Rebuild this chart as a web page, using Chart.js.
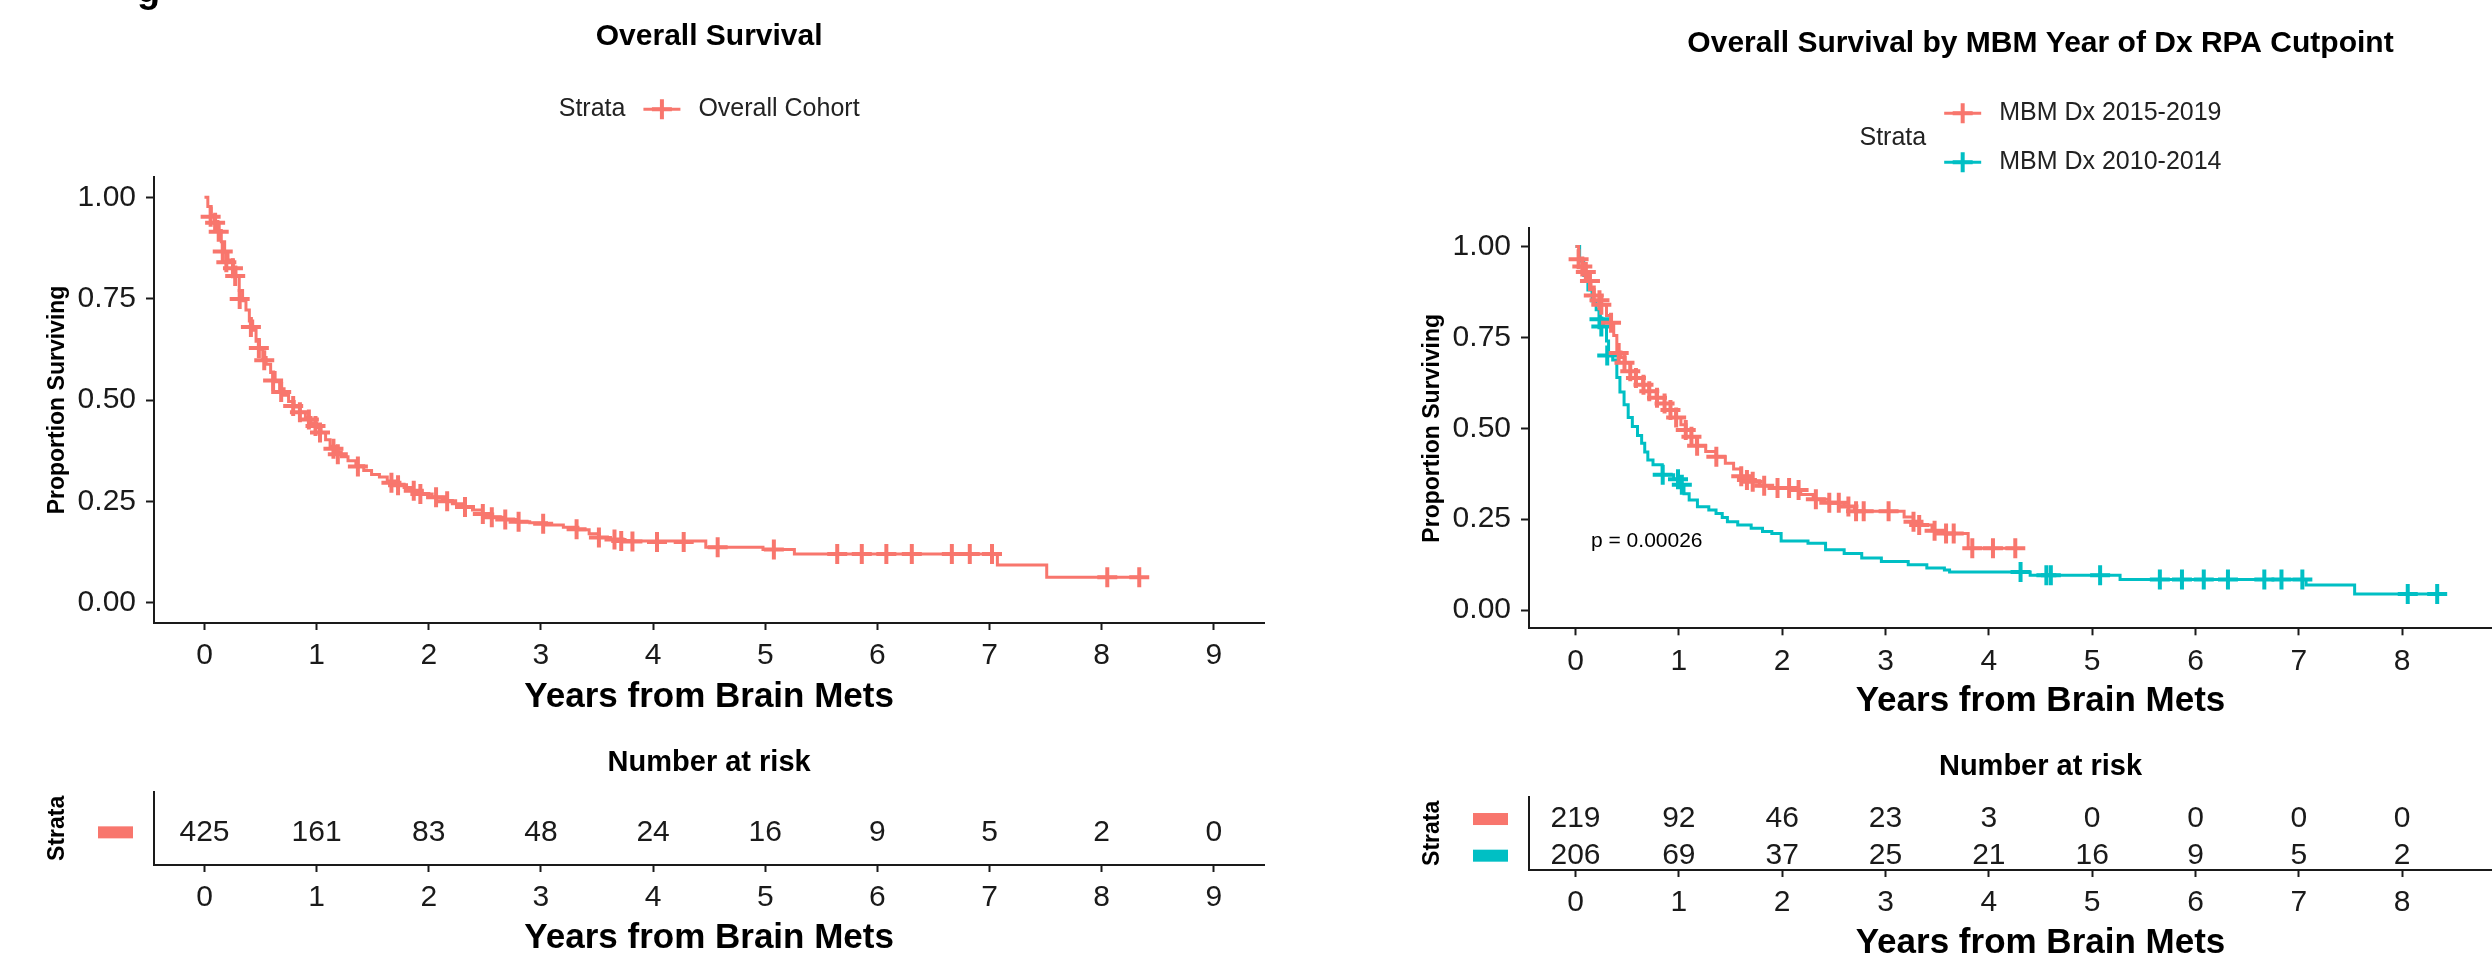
<!DOCTYPE html>
<html>
<head>
<meta charset="utf-8">
<title>Overall Survival</title>
<script src="https://cdn.jsdelivr.net/npm/chart.js@4.4.1/dist/chart.umd.min.js"></script>
<style>
  html, body { margin: 0; padding: 0; background: #fff; }
  body { width: 2492px; height: 964px; overflow: hidden; position: relative; }
  canvas { position: absolute; }
</style>
</head>
<body>
<canvas id="kmLeft" width="1300" height="720" style="left:0;top:0"></canvas>
<canvas id="kmRight" width="1220" height="724" style="left:1375px;top:0"></canvas>
<canvas id="riskLeft" width="1300" height="244" style="left:0;top:720px"></canvas>
<canvas id="riskRight" width="1220" height="244" style="left:1375px;top:720px"></canvas>
<script>
const FONT = "'Liberation Sans', Arial, sans-serif";
const RED = '#F8766D';
const TEAL = '#00BFC4';
const INK = '#1a1a1a';

// axes
const yearTicks = [0, 1, 2, 3, 4, 5, 6, 7, 8, 9];
const survTicks = [0, 0.25, 0.5, 0.75, 1];
const survTickLabels = ['0.00', '0.25', '0.50', '0.75', '1.00'];

// left panel: overall cohort
const overallTimes = [0, 0.03, 0.06, 0.09, 0.12, 0.15, 0.18, 0.21, 0.25, 0.28, 0.31, 0.34, 0.37, 0.40, 0.43, 0.46, 0.49, 0.52, 0.55, 0.59,
  0.63, 0.67, 0.71, 0.75, 0.80, 0.85, 0.90, 0.95, 1.00, 1.04, 1.08, 1.12, 1.17, 1.22, 1.28, 1.35, 1.42, 1.49, 1.56, 1.63,
  1.70, 1.78, 1.86, 1.94, 2.03, 2.12, 2.21, 2.30, 2.39, 2.48, 2.57, 2.67, 2.78, 2.90, 3.05, 3.20, 3.33, 3.43, 3.52, 3.62,
  3.75, 4.47, 4.98, 5.26, 7.07, 7.51, 8.34];
const overallSurv = [1, 0.977, 0.955, 0.94, 0.918, 0.89, 0.865, 0.845, 0.828, 0.805, 0.77, 0.745, 0.722, 0.695, 0.672, 0.645, 0.625, 0.605, 0.588, 0.568,
  0.545, 0.528, 0.512, 0.496, 0.483, 0.47, 0.457, 0.443, 0.432, 0.42, 0.402, 0.386, 0.372, 0.36, 0.35, 0.338, 0.326, 0.316, 0.31, 0.3,
  0.292, 0.284, 0.276, 0.268, 0.26, 0.252, 0.244, 0.236, 0.229, 0.219, 0.211, 0.205, 0.2, 0.197, 0.192, 0.186, 0.18, 0.17, 0.161, 0.156,
  0.152, 0.137, 0.131, 0.12, 0.093, 0.063, 0.063];
const overallCensorTimes = [0.055, 0.095, 0.127, 0.163, 0.195, 0.254, 0.274, 0.314, 0.414, 0.485, 0.533, 0.612, 0.684, 0.791, 0.851, 0.931, 0.99, 1.03, 1.15, 1.189,
  1.368, 1.667, 1.726, 1.866, 1.925, 2.065, 2.164, 2.323, 2.482, 2.562, 2.682, 2.801, 3.02, 3.318, 3.517, 3.656, 3.716, 3.816, 4.035, 4.273,
  4.576, 5.077, 5.642, 5.861, 6.08, 6.307, 6.664, 6.824, 7.022, 8.05, 8.335];
const overallCensorSurv = [0.952, 0.937, 0.915, 0.866, 0.84, 0.825, 0.806, 0.749, 0.68, 0.628, 0.598, 0.548, 0.52, 0.485, 0.47, 0.452, 0.436, 0.42, 0.38, 0.366,
  0.336, 0.296, 0.29, 0.276, 0.268, 0.26, 0.25, 0.236, 0.219, 0.211, 0.205, 0.2, 0.195, 0.181, 0.161, 0.156, 0.152, 0.151, 0.15, 0.15,
  0.137, 0.131, 0.12, 0.12, 0.12, 0.12, 0.12, 0.12, 0.12, 0.063, 0.063];
const overallRiskYears = [0, 1, 2, 3, 4, 5, 6, 7, 8, 9];
const overallAtRisk = [425, 161, 83, 48, 24, 16, 9, 5, 2, 0];

// right panel: MBM Dx 2015-2019 vs 2010-2014
const recentTimes = [0, 0.03, 0.07, 0.10, 0.12, 0.15, 0.18, 0.23, 0.25, 0.30, 0.34, 0.37, 0.40, 0.44, 0.48, 0.53, 0.58, 0.65, 0.71, 0.78,
  0.86, 0.92, 0.97, 1.02, 1.07, 1.12, 1.17, 1.26, 1.36, 1.45, 1.53, 1.60, 1.68, 1.78, 1.90, 2.10, 2.18, 2.30, 2.45, 2.60,
  2.70, 3.18, 3.27, 3.33, 3.45, 3.52, 3.80, 4.26];
const recentSurv = [1, 0.965, 0.945, 0.93, 0.905, 0.882, 0.865, 0.852, 0.84, 0.81, 0.79, 0.755, 0.71, 0.695, 0.68, 0.657, 0.638, 0.62, 0.602, 0.584,
  0.568, 0.55, 0.53, 0.51, 0.495, 0.477, 0.452, 0.436, 0.422, 0.404, 0.388, 0.368, 0.356, 0.342, 0.336, 0.33, 0.318, 0.305, 0.295, 0.285,
  0.272, 0.256, 0.243, 0.234, 0.218, 0.211, 0.17, 0.17];
const recentCensorTimes = [0.03, 0.066, 0.10, 0.14, 0.177, 0.232, 0.25, 0.344, 0.418, 0.474, 0.53, 0.585, 0.658, 0.714, 0.789, 0.862, 0.919, 0.974, 1.067, 1.122,
  1.177, 1.363, 1.604, 1.659, 1.715, 1.826, 1.955, 2.067, 2.159, 2.326, 2.456, 2.548, 2.641, 2.715, 2.789, 3.03, 3.271, 3.326, 3.475, 3.586,
  3.66, 3.84, 4.04, 4.256];
const recentCensorSurv = [0.965, 0.945, 0.93, 0.905, 0.865, 0.852, 0.84, 0.79, 0.707, 0.68, 0.657, 0.638, 0.62, 0.602, 0.584, 0.568, 0.55, 0.53, 0.495, 0.477,
  0.452, 0.422, 0.368, 0.358, 0.353, 0.342, 0.336, 0.336, 0.33, 0.305, 0.295, 0.295, 0.285, 0.272, 0.272, 0.272, 0.243, 0.234, 0.218, 0.211,
  0.211, 0.17, 0.17, 0.17];
const earlyTimes = [0, 0.04, 0.08, 0.12, 0.16, 0.20, 0.24, 0.27, 0.30, 0.32, 0.36, 0.40, 0.43, 0.47, 0.51, 0.55, 0.60, 0.64, 0.67, 0.70,
  0.75, 0.84, 0.95, 1.00, 1.05, 1.10, 1.18, 1.29, 1.36, 1.42, 1.47, 1.57, 1.70, 1.81, 1.90, 1.99, 2.25, 2.42, 2.60, 2.77,
  2.96, 3.22, 3.40, 3.57, 3.62, 4.40, 5.27, 7.07, 7.54, 8.34];
const earlySurv = [1, 0.96, 0.92, 0.88, 0.85, 0.826, 0.80, 0.78, 0.74, 0.70, 0.688, 0.64, 0.60, 0.565, 0.53, 0.505, 0.48, 0.459, 0.435, 0.413,
  0.40, 0.372, 0.36, 0.345, 0.32, 0.303, 0.284, 0.275, 0.266, 0.255, 0.243, 0.234, 0.225, 0.216, 0.211, 0.19, 0.184, 0.166, 0.156, 0.143,
  0.134, 0.125, 0.116, 0.11, 0.105, 0.096, 0.084, 0.069, 0.044, 0.044];
const earlyCensorTimes = [0.232, 0.25, 0.307, 0.844, 0.992, 1.029, 4.307, 4.557, 4.60, 5.077, 5.655, 5.869, 6.08, 6.314, 6.666, 6.832, 7.034, 8.054, 8.339];
const earlyCensorSurv = [0.80, 0.78, 0.70, 0.372, 0.36, 0.345, 0.105, 0.096, 0.096, 0.096, 0.084, 0.084, 0.084, 0.084, 0.084, 0.084, 0.084, 0.044, 0.044];
const splitRiskYears = [0, 1, 2, 3, 4, 5, 6, 7, 8];
const recentAtRisk = [219, 92, 46, 23, 3, 0, 0, 0, 0];
const earlyAtRisk = [206, 69, 37, 25, 21, 16, 9, 5, 2];

Chart.defaults.font.family = FONT;
Chart.defaults.animation = false;

const pts = (xs, ys) => xs.map((x, i) => ({ x, y: ys[i] }));

function curve(label, xs, ys, color) {
  return { type: 'line', label, data: pts(xs, ys), borderColor: color, borderWidth: 3,
    stepped: 'before', pointRadius: 0, fill: false };
}
function censor(label, xs, ys, color) {
  return { type: 'scatter', label, data: pts(xs, ys), showLine: false, pointStyle: 'cross',
    pointRadius: 10, pointHoverRadius: 10, borderColor: color, borderWidth: 4 };
}

function xAxis(box, titlePad) {
  return {
    type: 'linear', min: -0.45, max: 9.45,
    afterBuildTicks: s => { s.ticks = yearTicks.map(v => ({ value: v })); },
    afterFit: s => { s.height = box.h - box.bottom; },
    ticks: { color: INK, font: { size: 30 }, padding: 8, maxRotation: 0, autoSkip: false },
    grid: { drawOnChartArea: false, tickLength: 7, tickWidth: 2, color: INK, tickColor: INK },
    border: { color: INK, width: 2 },
    title: { display: true, text: 'Years from Brain Mets', color: '#000',
      font: { size: 35, weight: 'bold' }, padding: { top: 0, bottom: titlePad } }
  };
}

// titles, legend and p-value
const kmText = {
  id: 'kmText',
  afterDraw(chart, args, o) {
    const { ctx, chartArea: a, scales } = chart;
    const cx = (a.left + a.right) / 2;
    ctx.save();
    if (o.fragment) {
      // cut-off glyph from the line above the figure
      ctx.fillStyle = '#000';
      ctx.font = `bold 38px ${FONT}`;
      ctx.fillText(o.fragment, 137, 2);
    }
    ctx.textBaseline = 'middle';
    ctx.textAlign = 'center';
    ctx.fillStyle = '#000';
    ctx.font = `bold 30px ${FONT}`;
    ctx.fillText(o.title, cx, o.titleY);

    ctx.font = `25px ${FONT}`;
    const wS = ctx.measureText('Strata').width;
    const wL = Math.max(...o.keys.map(k => ctx.measureText(k.label).width));
    const x0 = cx - (wS + 18 + 37 + 18 + wL) / 2;
    const kx = x0 + wS + 18;
    ctx.textAlign = 'left';
    ctx.fillStyle = '#222';
    ctx.fillText('Strata', x0, o.strataY);
    o.keys.forEach((k, i) => {
      const y = o.keyY[i];
      ctx.strokeStyle = k.color;
      ctx.lineWidth = 3;
      ctx.beginPath(); ctx.moveTo(kx, y); ctx.lineTo(kx + 37, y); ctx.stroke();
      ctx.lineWidth = 4;
      ctx.beginPath();
      ctx.moveTo(kx + 18.5, y - 10); ctx.lineTo(kx + 18.5, y + 10);
      ctx.moveTo(kx + 8.5, y); ctx.lineTo(kx + 28.5, y);
      ctx.stroke();
      ctx.fillStyle = '#222';
      ctx.fillText(k.label, kx + 37 + 18, y);
    });

    if (o.pValue) {
      ctx.font = `21px ${FONT}`;
      ctx.fillStyle = '#000';
      ctx.fillText(o.pValue, scales.x.getPixelForValue(0.15), scales.y.getPixelForValue(0.19));
    }
    ctx.restore();
  }
};

// risk table numbers and strata colour bars
const riskText = {
  id: 'riskText',
  afterDraw(chart, args, o) {
    const { ctx, chartArea: a, scales: { x, y } } = chart;
    ctx.save();
    ctx.textAlign = 'center';
    ctx.textBaseline = 'middle';
    ctx.fillStyle = '#000';
    ctx.font = `bold 29px ${FONT}`;
    ctx.fillText('Number at risk', (a.left + a.right) / 2, o.titleY);
    ctx.font = `30px ${FONT}`;
    o.rows.forEach((row, i) => {
      const py = y.getPixelForValue(i) + 4;
      ctx.fillStyle = row.color;
      ctx.fillRect(a.left - 56, py - 6, 35, 12);
      ctx.fillStyle = INK;
      row.counts.forEach((n, j) => ctx.fillText(String(n), x.getPixelForValue(row.years[j]), py));
    });
    ctx.restore();
  }
};

function kmChart(id, box, datasets, text, titlePad) {
  return new Chart(document.getElementById(id), {
    type: 'line',
    data: { datasets },
    plugins: [kmText],
    options: {
      responsive: false,
      devicePixelRatio: 1,
      events: [],
      layout: { autoPadding: false, padding: { left: 0, top: box.top, right: box.w - box.right, bottom: 0 } },
      scales: {
        x: xAxis(box, titlePad),
        y: {
          type: 'linear', min: -0.05, max: 1.05,
          afterBuildTicks: s => { s.ticks = survTicks.map(v => ({ value: v })); },
          afterFit: s => { s.width = box.left; },
          ticks: { color: INK, font: { size: 30 }, padding: 10, callback: (v, i) => survTickLabels[i] },
          grid: { drawOnChartArea: false, tickLength: 8, tickWidth: 2, color: INK, tickColor: INK },
          border: { color: INK, width: 2 },
          title: { display: true, text: 'Proportion Surviving', color: '#000',
            font: { size: 23, weight: 'bold' }, padding: { top: 44, bottom: 0 } }
        }
      },
      plugins: { legend: { display: false }, tooltip: { enabled: false }, kmText: text }
    }
  });
}

function riskChart(id, box, strata, rows, titleY, titlePad) {
  return new Chart(document.getElementById(id), {
    type: 'line',
    data: { datasets: [] },
    plugins: [riskText],
    options: {
      responsive: false,
      devicePixelRatio: 1,
      events: [],
      layout: { autoPadding: false, padding: { left: 0, top: box.top, right: box.w - box.right, bottom: 0 } },
      scales: {
        x: xAxis(box, titlePad),
        y: {
          type: 'category', labels: strata, offset: true,
          afterFit: s => { s.width = box.left; },
          ticks: { display: false },
          grid: { drawOnChartArea: false, drawTicks: false },
          border: { color: INK, width: 2 },
          title: { display: true, text: 'Strata', color: '#000',
            font: { size: 23, weight: 'bold' }, padding: { top: 44, bottom: 0 } }
        }
      },
      plugins: { legend: { display: false }, tooltip: { enabled: false }, riskText: { titleY, rows } }
    }
  });
}

kmChart('kmLeft', { w: 1300, h: 720, left: 154, top: 177, right: 1264.3, bottom: 623 }, [
  censor('Overall Cohort censored', overallCensorTimes, overallCensorSurv, RED),
  curve('Overall Cohort', overallTimes, overallSurv, RED)
], {
  title: 'Overall Survival', titleY: 36.7, strataY: 109.3, keyY: [109.3],
  keys: [{ label: 'Overall Cohort', color: RED }], fragment: 'g'
}, 2);

kmChart('kmRight', { w: 1220, h: 724, left: 154, top: 228.3, right: 1177, bottom: 628.3 }, [
  censor('MBM Dx 2015-2019 censored', recentCensorTimes, recentCensorSurv, RED),
  curve('MBM Dx 2015-2019', recentTimes, recentSurv, RED),
  censor('MBM Dx 2010-2014 censored', earlyCensorTimes, earlyCensorSurv, TEAL),
  curve('MBM Dx 2010-2014', earlyTimes, earlySurv, TEAL)
], {
  title: 'Overall Survival by MBM Year of Dx RPA Cutpoint', titleY: 43.3, strataY: 137.8, keyY: [113.3, 162.3],
  keys: [{ label: 'MBM Dx 2015-2019', color: RED }, { label: 'MBM Dx 2010-2014', color: TEAL }],
  pValue: 'p = 0.00026'
}, 2);

riskChart('riskLeft', { w: 1300, h: 244, left: 154, top: 71.7, right: 1264.3, bottom: 145 },
  ['Overall Cohort'],
  [{ color: RED, years: overallRiskYears, counts: overallAtRisk }], 43, 4.7);

riskChart('riskRight', { w: 1220, h: 244, left: 154, top: 76.7, right: 1177, bottom: 150 },
  ['MBM Dx 2015-2019', 'MBM Dx 2010-2014'],
  [{ color: RED, years: splitRiskYears, counts: recentAtRisk },
   { color: TEAL, years: splitRiskYears, counts: earlyAtRisk }], 46.7, 0);
</script>
</body>
</html>
